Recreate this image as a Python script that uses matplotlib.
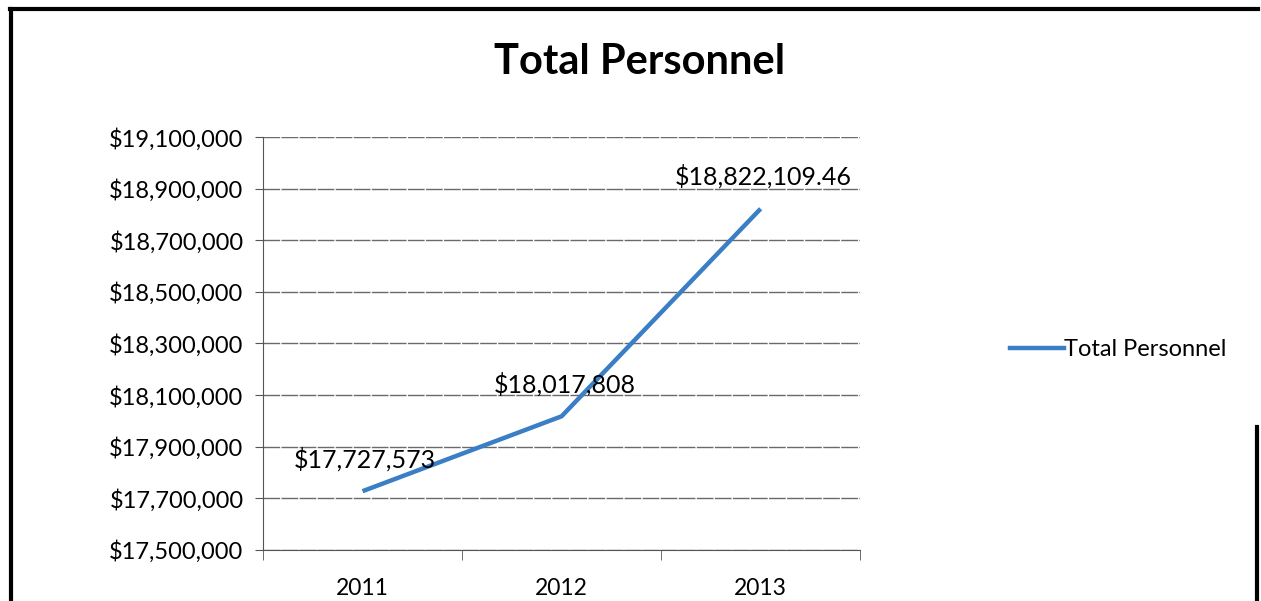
import matplotlib.pyplot as plt
from matplotlib.lines import Line2D
from matplotlib.ticker import FuncFormatter

# --- data ---
years = ["2011", "2012", "2013"]
totals = [17727573, 18017808, 18822109.46]
point_labels = ["$17,727,573", "$18,017,808", "$18,822,109.46"]
y_ticks = [17500000, 17700000, 17900000, 18100000, 18300000,
           18500000, 18700000, 18900000, 19100000]

font = ["Lato", "DejaVu Sans"]
plt.rcParams["font.family"] = font
line_color = "#3a7ec6"

fig = plt.figure(figsize=(12.61, 6.01), dpi=100)
ax = fig.add_axes([0.2086, 0.085, 0.4735, 0.687])

x = range(len(years))
ax.plot(x, totals, color=line_color, lw=3.2, solid_capstyle="butt", zorder=3)

for xi, v, lab in zip(x, totals, point_labels):
    ax.annotate(lab, (xi, v), xytext=(2, 23), textcoords="offset points",
                ha="center", va="center", fontsize=18, color="black", zorder=4)

ax.set_xlim(-0.5, len(years) - 0.5)
ax.set_ylim(y_ticks[0], y_ticks[-1])
ax.set_yticks(y_ticks)
ax.yaxis.set_major_formatter(FuncFormatter(lambda v, p: f"${v:,.0f}"))
ax.set_xticks(list(x))
ax.set_xticklabels(years)
ax.set_xticks([-0.5, 0.5, 1.5, 2.5], minor=True)
ax.tick_params(axis="x", which="major", length=0, pad=20, labelsize=16.5)
ax.tick_params(axis="x", which="minor", length=7, color="#555555", direction="out")
ax.tick_params(axis="y", length=6, color="#555555", labelsize=17, pad=8)

ax.grid(axis="y", color="#5a5a5a", lw=1.0, linestyle=(0, (12, 1)), alpha=0.9)
for s in ["top", "right"]:
    ax.spines[s].set_visible(False)
ax.spines["left"].set_color("#555555")
ax.spines["bottom"].set_color("#555555")

fig.text(0.507, 0.897, "Total Personnel", ha="center", va="center",
         fontsize=30, fontweight="bold")

# legend
handle = Line2D([], [], color=line_color, lw=3.2)
fig.legend([handle], ["Total Personnel"], loc="center left",
           bbox_to_anchor=(0.784, 0.418), frameon=False, fontsize=17,
           handlelength=2.3, handletextpad=0.0)

# scanned frame border
fig.add_artist(Line2D([0.008, 0.998], [0.985, 0.985], color="black", lw=3,
                      transform=fig.transFigure))
fig.add_artist(Line2D([0.009, 0.009], [0.0, 0.985], color="black", lw=3,
                      transform=fig.transFigure))
fig.add_artist(Line2D([0.997, 0.997], [0.0, 0.29], color="black", lw=3,
                      transform=fig.transFigure))

fig.savefig("out.png", dpi=100)
